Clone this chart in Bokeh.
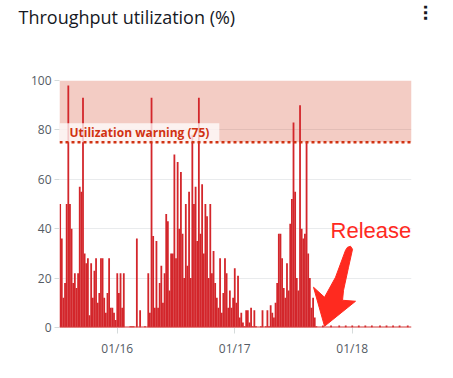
import datetime as dt
from bokeh.plotting import figure
from bokeh.models import (Range1d, BoxAnnotation, Span, Label, FixedTicker,
                          DatetimeTickFormatter, ColumnDataSource, Title)
from bokeh.embed import file_html
from bokeh.resources import INLINE

# ---------------- data ----------------
series_start = dt.datetime(2024, 1, 15, 12, 10)
interval_minutes = 20
utilization = [
    50, 36, 12, 18, 50, 98, 50, 40, 18, 22,
    16, 22, 57, 55, 93, 30, 26, 28, 5, 26,
    12, 23, 28, 10, 14, 28, 28, 12, 6, 14,
    28, 8, 8, 6, 3, 22, 14, 22, 8, 22,
    0, 0, 0, 0.5, 0.5, 0.5, 0, 36, 0, 7,
    0, 0, 0.5, 0, 22, 6, 93, 37, 8, 35,
    8, 18, 25, 10, 22, 46, 43, 15, 30, 30,
    70, 28, 67, 40, 63, 38, 20, 50, 25, 55,
    20, 78, 50, 57, 35, 93, 38, 58, 30, 50,
    45, 20, 50, 22, 31, 18, 12, 8, 28, 6,
    14, 28, 22, 8, 15, 8, 12, 24, 10, 21,
    4, 6, 2, 0.5, 7, 7, 2, 8, 0.5, 7,
    0.5, 0, 0, 0.5, 7, 0, 0.5, 7, 0.5, 9,
    6, 4, 10, 18, 38, 38, 28, 16, 12, 26,
    15, 42, 52, 83, 55, 20, 15, 90, 40, 36,
    38, 75, 30, 20, 8, 12, 4, 0.5, 0, 0,
    0, 0.8, 0, 0, 0, 0, 0.8, 0, 0, 0,
    0, 0.8, 0, 0, 0, 0.8, 0, 0, 0, 0.8,
    0, 0, 0, 0.8, 0, 0, 0, 0.8, 0, 0,
    0, 0.8, 0, 0, 0, 0, 0.8, 0, 0, 0,
    0.8, 0, 0, 0, 0.8, 0, 0, 0, 0.8, 0,
    0, 0, 0, 0.8, 0, 0,
]
times = [series_start + dt.timedelta(minutes=interval_minutes * (i + 0.5))
         for i in range(len(utilization))]

tick_dates = [dt.datetime(2024, 1, 16), dt.datetime(2024, 1, 17), dt.datetime(2024, 1, 18)]
y_ticks = [0, 20, 40, 60, 80, 100]
warning_threshold = 75
warning_top = 100
warning_label = "Utilization warning (75)"
title_text = "Throughput utilization (%)"
release_label = "Release"
release_time = dt.datetime(2024, 1, 17, 18, 20)

x_start = dt.datetime(2024, 1, 15, 12, 12)
x_end = dt.datetime(2024, 1, 18, 12, 6)

# ---------------- figure ----------------
W, H = 453, 378
BL, BR, BT, BB = 59, 42, 80, 51
frame_w = W - BL - BR
frame_h = H - BT - BB

p = figure(width=W, height=H, output_backend="svg", toolbar_location=None,
           x_axis_type="datetime",
           x_range=Range1d(x_start, x_end), y_range=Range1d(0, 100),
           min_border_left=BL, min_border_right=BR,
           min_border_top=BT, min_border_bottom=BB)
p.outline_line_color = None
p.background_fill_color = "white"
p.border_fill_color = "white"

# spacer between frame and title (title is stacked outermost)
p.add_layout(Title(text=" ", text_font_size="1px", standoff=47), "above")

p.title.text = title_text
p.title.align = "left"
p.title.offset = 18 - BL
p.title.standoff = 0
p.title.vertical_align = "top"
p.title.text_font = "Open Sans"
p.title.text_font_size = "18px"
p.title.text_font_style = "normal"
p.title.text_color = "#16191f"

p.add_layout(Title(text="\u22ef", align="left", offset=-76,
                   text_font="DejaVu Sans",
                   text_font_size="16px", text_font_style="bold",
                   text_color="#16191f", standoff=8), "right")

p.xgrid.grid_line_color = None
p.ygrid.grid_line_color = "#e9ebed"
p.ygrid.grid_line_width = 1

# warning band
band = BoxAnnotation(bottom=warning_threshold, top=warning_top,
                     fill_color="#d13212", fill_alpha=0.25, line_color=None,
                     level="underlay")
p.add_layout(band)

src = ColumnDataSource(dict(t=times, v=utilization))
bar_w = dt.timedelta(minutes=interval_minutes * 1.1).total_seconds() * 1000
p.vbar(x="t", top="v", bottom=0, width=bar_w, source=src,
       fill_color="#d3262b", fill_alpha=1.0, line_color=None)

p.add_layout(Span(location=0, dimension="width", line_color="#d43a3a",
                  line_width=2))

p.add_layout(Label(x=x_start, y=warning_threshold, x_offset=0, y_offset=0,
                   text=warning_label, text_font="Open Sans",
                   text_font_size="12px", text_font_style="bold",
                   text_color="#d13212", text_baseline="bottom",
                   background_fill_color="white", background_fill_alpha=0.75,
                   padding=(10, 1)))

p.add_layout(Span(location=warning_threshold, dimension="width",
                  line_color="#d13212", line_width=2.5, line_dash="3 3"))

# axes
for ax in (p.xaxis[0], p.yaxis[0]):
    ax.axis_line_color = None
    ax.minor_tick_line_color = None
    ax.major_tick_line_color = "#d5dbdb"
    ax.major_tick_in = 0
    ax.major_label_text_font = "Open Sans"
    ax.major_label_text_font_size = "12px"
    ax.major_label_text_color = "#545b64"

p.yaxis.ticker = FixedTicker(ticks=y_ticks)
p.yaxis.major_tick_out = 5
p.yaxis.major_label_standoff = 3

tick_ms = [(d - dt.datetime(1970, 1, 1)).total_seconds() * 1000 for d in tick_dates]
p.xaxis.ticker = FixedTicker(ticks=tick_ms)
fmt = "%m/%d"
p.xaxis.formatter = DatetimeTickFormatter(days=fmt, months=fmt, hours=fmt,
                                          minutes=fmt, hourmin=fmt, years=fmt)
p.xaxis.major_tick_out = 6
p.xaxis.major_label_standoff = 6

# Release annotation: arrow shape as pixel offsets from its tip
ms_per_px = (x_end - x_start).total_seconds() * 1000 / frame_w
val_per_px = 100 / frame_h
tip_ms = (release_time - dt.datetime(1970, 1, 1)).total_seconds() * 1000
tip_val = 0.5
arrow_px = [(26, 80), (28, 77), (24, 59), (19, 36), (18, 26), (31, 25),
            (0, 0), (-11, 39), (0, 29), (11, 49), (21, 76), (23, 79)]
ax_ = [tip_ms + dx * ms_per_px for dx, dy in arrow_px]
ay_ = [tip_val + dy * val_per_px for dx, dy in arrow_px]
p.patch(ax_, ay_, fill_color="#ff2a1f", line_color="#ff2a1f", line_width=1)

p.add_layout(Label(x=tip_ms + 6 * ms_per_px, y=tip_val + 96 * val_per_px,
                   text=release_label, text_font="Liberation Sans",
                   text_font_size="22px", text_color="#ff2a1f",
                   text_baseline="alphabetic"))

open("out.html", "w").write(file_html(p, INLINE))
